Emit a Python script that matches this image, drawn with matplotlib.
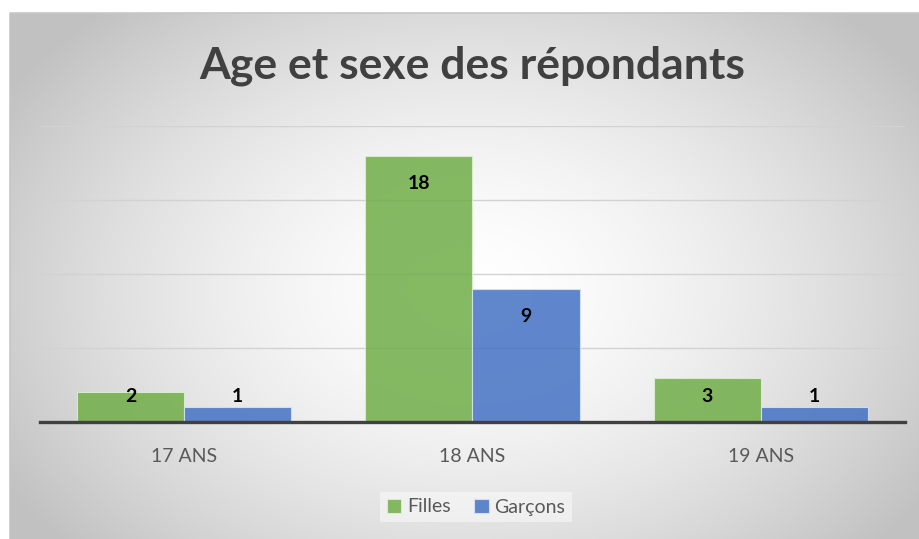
import numpy as np
import matplotlib.pyplot as plt
from matplotlib.patches import Rectangle

plt.rcParams['font.family'] = ['Lato', 'DejaVu Sans']

categories = ['17 ANS', '18 ANS', '19 ANS']
filles = [2, 18, 3]
garcons = [1, 9, 1]
series_names = ['Filles', 'Garçons']
title = 'Age et sexe des répondants'

GREEN = '#70ad47'
BLUE = '#4472c4'
TEXT_GREY = '#595959'

W, H = 920, 539
fig = plt.figure(figsize=(W / 100, H / 100), dpi=100)
fig.patch.set_facecolor('white')

# radial grey background inside the chart frame
bg = fig.add_axes([0, 0, 1, 1], zorder=-10)
bg.set_xlim(0, W)
bg.set_ylim(H, 0)
bg.axis('off')
yy, xx = np.mgrid[0:H, 0:W]
cx, cy = 470, 290
r = np.sqrt(((xx - cx) / 540.0) ** 2 + ((yy - cy) / 380.0) ** 2)
r = np.clip(r, 0, 1)
shade = 1.0 - 0.24 * r ** 1.6
img = np.dstack([shade, shade, shade])
frame_x, frame_y = 10, 13
img[:frame_y, :, :] = 1.0
img[:, :frame_x, :] = 1.0
bg.imshow(img, extent=(0, W, H, 0), aspect='auto', interpolation='bilinear')
bg.add_patch(Rectangle((frame_x, frame_y), W + 20, H + 20, fill=False,
                       edgecolor='#c6c6c6', lw=1.2))

ax = fig.add_axes([40 / W, 117 / H, 865 / W, 296 / H])
ax.patch.set_alpha(0)

x = np.arange(len(categories))
w = 0.372
b1 = ax.bar(x - w / 2, filles, w, color=GREEN, alpha=0.85, edgecolor='#dff0d5',
            linewidth=0.8, label=series_names[0], zorder=3)
b2 = ax.bar(x + w / 2, garcons, w, color=BLUE, alpha=0.85, edgecolor='#dbe5f5',
            linewidth=0.8, label=series_names[1], zorder=3)

for xs, vals in ((x - w / 2, filles), (x + w / 2, garcons)):
    for xi, v in zip(xs, vals):
        ax.text(xi, max(v - 1.9, 1.7), str(v), ha='center', va='center',
                fontsize=14, fontweight='bold', color='black', zorder=5)

ax.set_xlim(-0.5, 2.5)
ax.set_ylim(0, 20)
ax.set_yticks([5, 10, 15, 20])
ax.yaxis.grid(True, color='#d2d2d2', lw=1.0, zorder=0)
ax.set_yticklabels([])
ax.tick_params(axis='y', length=0)
ax.set_xticks(x)
ax.set_xticklabels(categories, fontsize=14, color=TEXT_GREY)
ax.tick_params(axis='x', length=0, pad=19)
for s in ['left', 'right', 'top']:
    ax.spines[s].set_visible(False)
ax.spines['bottom'].set_color('#404040')
ax.spines['bottom'].set_linewidth(2.4)
ax.spines['bottom'].set_zorder(4)

fig.text(472 / W, 1 - 66 / H, title, ha='center', va='center',
         fontsize=32, fontweight='bold', color='#404040')

leg = fig.legend(handles=[b1, b2], labels=series_names, loc='center',
                 bbox_to_anchor=(476 / W, 1 - 507 / H), ncol=2, frameon=True,
                 fontsize=14, handlelength=0.75, handleheight=0.75,
                 handletextpad=0.3, columnspacing=1.2, borderpad=0.35)
leg.get_frame().set_facecolor('white')
leg.get_frame().set_alpha(0.45)
leg.get_frame().set_edgecolor('none')
leg.get_frame().set_boxstyle('square', pad=0)
for t in leg.get_texts():
    t.set_color(TEXT_GREY)

fig.savefig('out.png', dpi=100)
